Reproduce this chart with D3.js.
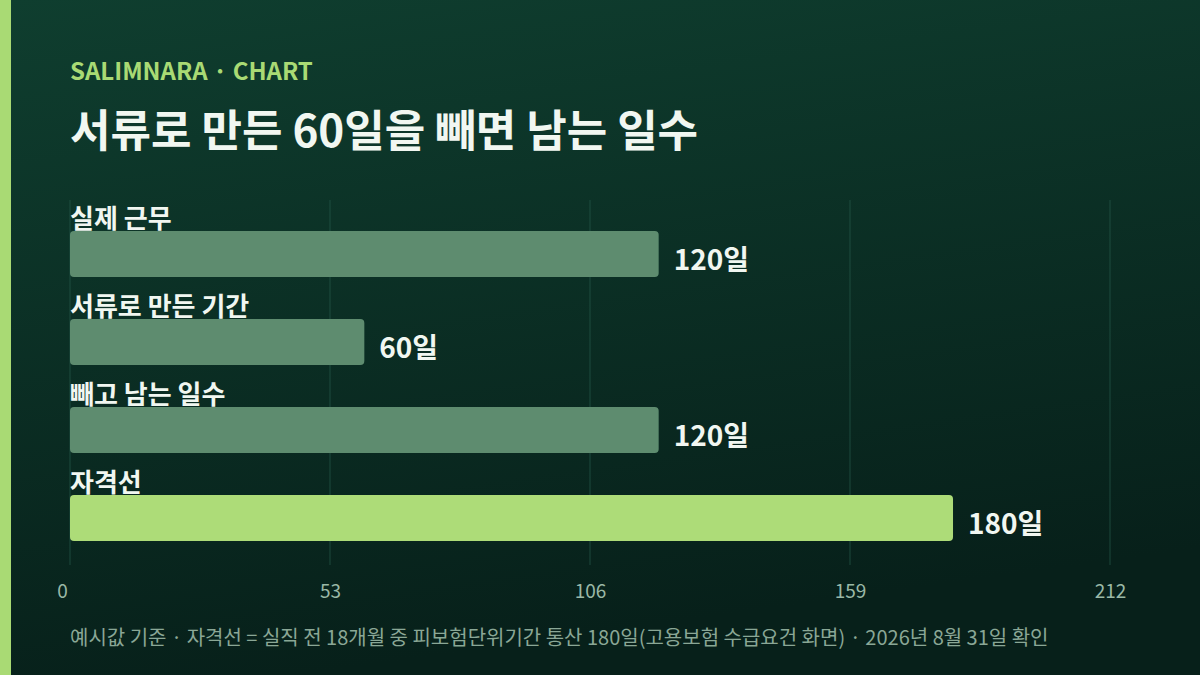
<!DOCTYPE html>
<html>
<head>
<meta charset="utf-8">
<script src="https://cdn.jsdelivr.net/npm/d3@7"></script>
<style>
  body { margin: 0; background: #08201a; }
  svg { display: block; font-family: "Noto Sans CJK KR", "Noto Sans", sans-serif; }
</style>
</head>
<body>
<div class="chart"></div>
<script>
// data
const categories = ['실제 근무', '서류로 만든 기간', '빼고 남는 일수', '자격선']
const values = [120, 60, 120, 180]
const highlight = [false, false, false, true]
const ticks = [0, 53, 106, 159, 212]

const width = 1200, height = 675
const svg = d3.select('.chart').append('svg')
  .attr('width', width)
  .attr('height', height)

const defs = svg.append('defs')
const grad = defs.append('linearGradient')
  .attr('id', 'bg')
  .attr('x1', 0).attr('y1', 0).attr('x2', 0.25).attr('y2', 1)
grad.append('stop').attr('offset', '0%').attr('stop-color', '#0f3e2f')
grad.append('stop').attr('offset', '100%').attr('stop-color', '#07201a')

svg.append('rect')
  .attr('width', width).attr('height', height)
  .attr('fill', 'url(#bg)')

// left accent
svg.append('rect')
  .attr('x', 0).attr('y', 0)
  .attr('width', 11).attr('height', height)
  .attr('fill', '#a9da74')

svg.append('text')
  .attr('x', 70).attr('y', 80)
  .attr('font-size', 24)
  .attr('font-weight', 700)
  .attr('fill', '#a9da74')
  .text('SALIMNARA · CHART')

svg.append('text')
  .attr('x', 70).attr('y', 147)
  .attr('font-size', 44)
  .attr('font-weight', 700)
  .attr('fill', '#f1f7f1')
  .text('서류로 만든 60일을 빼면 남는 일수')

const x = d3.scaleLinear()
  .domain([0, 212])
  .range([70, 1110])

const y = d3.scaleBand()
  .domain(categories)
  .range([231, 541])
  .paddingInner(0.477)
  .paddingOuter(0)

// grid
svg.selectAll('.grid')
  .data(ticks)
  .enter()
  .append('line')
  .attr('class', 'grid')
  .attr('x1', d => x(d)).attr('x2', d => x(d))
  .attr('y1', 200).attr('y2', 565)
  .attr('stroke', '#25584a')
  .attr('stroke-opacity', 0.7)
  .attr('stroke-width', 1)

// axis labels
const xAxis = d3.axisBottom(x)
  .tickValues(ticks)
  .tickSize(0)
  .tickPadding(0)
const ax = svg.append('g')
  .attr('class', 'axis x-axis')
  .attr('transform', 'translate(0, 584)')
  .call(xAxis)
ax.select('.domain').remove()
ax.selectAll('text')
  .attr('font-size', 19)
  .attr('font-family', '"Noto Sans CJK KR", "Noto Sans", sans-serif')
  .attr('fill', '#9ab8a6')
  .attr('dx', (d, i) => i == 0 ? -8 : 0)

const rows = categories.map((c, i) => ({ cat: c, value: values[i], hl: highlight[i] }))

svg.selectAll('.cat')
  .data(rows)
  .enter()
  .append('text')
  .attr('class', 'cat')
  .attr('x', 70)
  .attr('y', d => y(d.cat) - 3)
  .attr('font-size', 26)
  .attr('font-weight', 700)
  .attr('fill', '#f1f7f1')
  .text(d => d.cat)

svg.selectAll('.bar')
  .data(rows)
  .enter()
  .append('rect')
  .attr('class', 'bar')
  .attr('x', x(0))
  .attr('y', d => y(d.cat))
  .attr('width', d => x(d.value) - x(0))
  .attr('height', y.bandwidth())
  .attr('rx', 4)
  .attr('fill', d => d.hl ? '#addc78' : '#5e8c6f')

svg.selectAll('.val')
  .data(rows)
  .enter()
  .append('text')
  .attr('class', 'val')
  .attr('x', d => x(d.value) + 15)
  .attr('y', d => y(d.cat) + y.bandwidth() / 2 + 16)
  .attr('font-size', 28)
  .attr('font-weight', 700)
  .attr('fill', '#f1f7f1')
  .text(d => d.value + '일')

svg.append('text')
  .attr('x', 70).attr('y', 645)
  .attr('font-size', 20)
  .attr('fill', '#8aa796')
  .text('예시값 기준 · 자격선 = 실직 전 18개월 중 피보험단위기간 통산 180일(고용보험 수급요건 화면) · 2026년 8월 31일 확인')
</script>
</body>
</html>
